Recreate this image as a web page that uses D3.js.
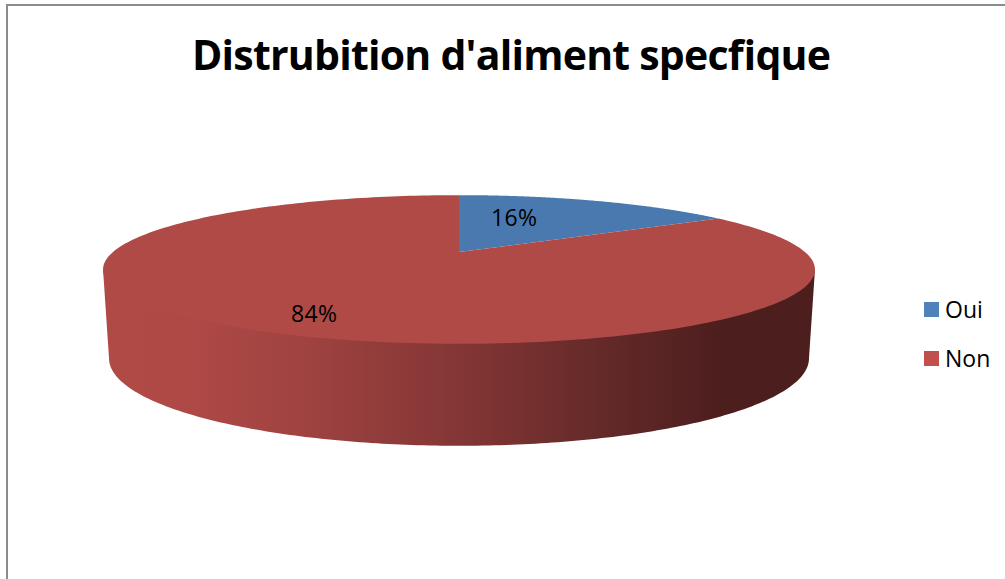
<!DOCTYPE html>
<html>
<head>
<meta charset="utf-8">
<script src="https://cdn.jsdelivr.net/npm/d3@7"></script>
<style>
html,body{margin:0;padding:0;background:#fff;overflow:hidden}
svg{display:block}
text{font-family:"Open Sans",Lato,sans-serif;fill:#000}
</style>
</head>
<body>
<svg id="chart" width="1005" height="579"></svg>
<script>
const titleText = "Distrubition d'aliment specfique";
const categories = ["Oui", "Non"];
const values = [16, 84];
const topColors = ["#4a79b0", "#b04a47"];
const legendColors = ["#4f81bd", "#c0504d"];

const svg = d3.select("#chart");
const W = 1005, H = 579;

// Perspective disc projection (unit disc -> screen)
const cx = 459, K = -0.235, A = 11, B = 252, C = 346;
function project(angle, r) {
  const u = r * Math.sin(angle), v = -r * Math.cos(angle);
  const w = 1 + K * v;
  return [cx + C * u / w, (B + A * v) / w];
}
// Lower rim of the disc, derived from the upper rim
const rimX = d3.scaleLinear().domain([cx - 356, cx + 356]).range([cx - 350, cx + 350]);
const rimY = d3.scaleLinear().domain([269.5, 344]).range([358.5, 446]);
const rim = p => [rimX(p[0]), rimY(p[1])];

const pieGen = d3.pie().sort(null).value(d => d)(values);
const color = d3.scaleOrdinal().domain(categories).range(topColors);
const legendColor = d3.scaleOrdinal().domain(categories).range(legendColors);
const line = d3.line();

// Chart frame
svg.append("path")
  .attr("d", `M7,${H}V5H${W}`)
  .attr("fill", "none").attr("stroke", "#8c8c8c").attr("stroke-width", 2);

// Title
svg.append("text").attr("x", 511.5).attr("y", 70)
  .attr("text-anchor", "middle").attr("font-size", 41).attr("font-weight", 700)
  .attr("textLength", 639).attr("lengthAdjust", "spacing")
  .text(titleText);

// Side wall gradient
const defs = svg.append("defs");
const grad = defs.append("linearGradient").attr("id", "wall")
  .attr("gradientUnits", "userSpaceOnUse")
  .attr("x1", 103).attr("x2", 815).attr("y1", 0).attr("y2", 0);
[[103, "#b04a47"], [190, "#ae4946"], [300, "#a04341"], [459, "#833635"],
 [600, "#642a29"], [720, "#4d1e1e"], [815, "#4d1e1e"]].forEach(([x, c]) =>
  grad.append("stop").attr("offset", (x - 103) / 712).attr("stop-color", c));

// Wall: front half of the outline, from right extreme round to left extreme
const extreme = Math.acos(K);           // angle of the widest point of the projected disc
const frontAngles = d3.range(0, 201).map(i => extreme + i / 200 * (2 * Math.PI - 2 * extreme));
const topEdge = frontAngles.map(a => project(a, 0.985));
const bottomEdge = frontAngles.map(a => rim(project(a, 1))).reverse();
const sideL = project(2 * Math.PI - extreme, 1), sideR = project(extreme, 1);
svg.append("path")
  .attr("d", line([sideR, ...topEdge, sideL, ...bottomEdge]) + "Z")
  .attr("fill", "url(#wall)");

// Top slices
svg.selectAll("path.slice").data(pieGen).enter().append("path")
  .attr("class", "slice")
  .attr("fill", (d, i) => color(categories[i]))
  .attr("d", d => {
    const n = 240;
    const pts = d3.range(0, n + 1).map(i =>
      project(d.startAngle + i / n * (d.endAngle - d.startAngle), 1));
    return line([project(0, 0), ...pts]) + "Z";
  });

// Data labels
const labelPos = [[514, 226], [314, 322]];
svg.selectAll("text.pct").data(values).enter().append("text")
  .attr("class", "pct")
  .attr("x", (d, i) => labelPos[i][0]).attr("y", (d, i) => labelPos[i][1])
  .attr("text-anchor", "middle").attr("font-size", 23)
  .attr("textLength", 46).attr("lengthAdjust", "spacing")
  .text(d => d + "%");

// Legend
const legendY = d3.scalePoint().domain(categories).range([302, 351]);
const lg = svg.selectAll("g.lg").data(categories).enter().append("g").attr("class", "lg")
  .attr("transform", d => `translate(924,${legendY(d)})`);
lg.append("rect").attr("width", 15).attr("height", 15).attr("fill", d => legendColor(d));
lg.append("text").attr("x", 21).attr("y", 16).attr("font-size", 23).text(d => d);
</script>
</body>
</html>
